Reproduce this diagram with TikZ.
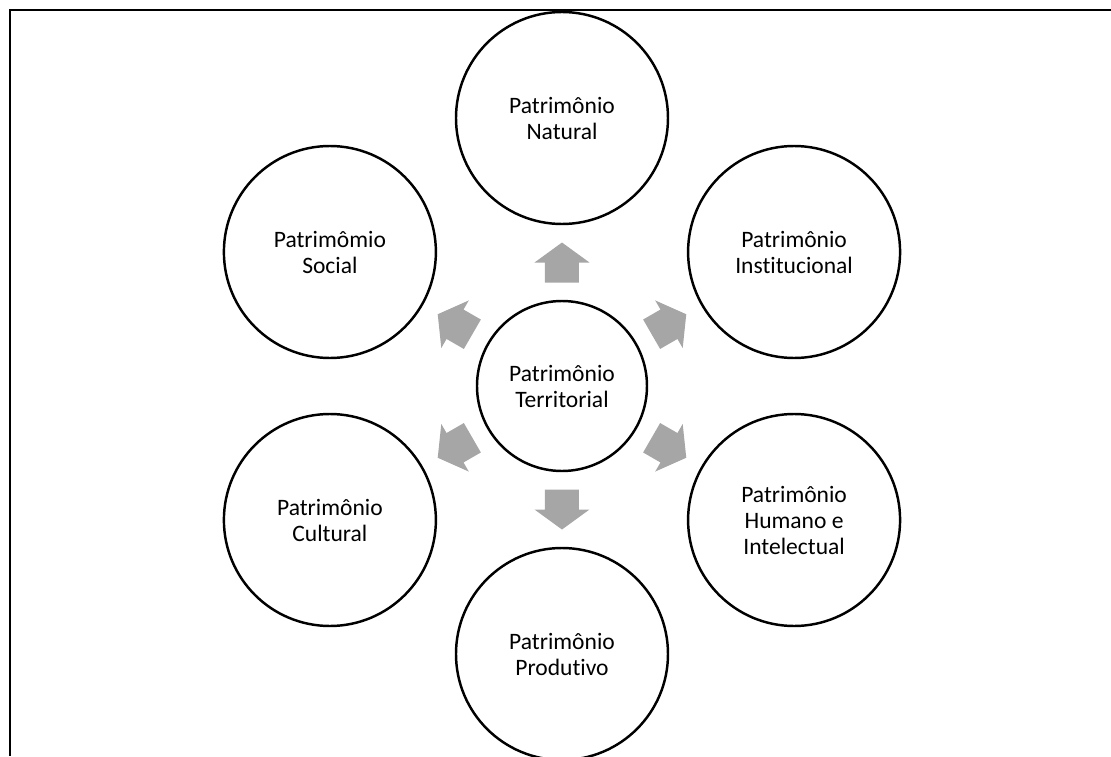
\documentclass[tikz,border=0pt]{standalone}
\usepackage{fontspec}
\setmainfont{Carlito}[Ligatures=NoCommon]
\usepackage{tikz}
\usetikzlibrary{calc}

\definecolor{arrowgray}{HTML}{A6A6A6}

\tikzset{
  patr/.style={circle, draw=black, line width=1.4pt, fill=white, align=center,
    font=\fontsize{13.4}{14.8}\selectfont, inner sep=0pt},
  outer/.style={patr, minimum size=4.24cm},
  inner/.style={patr, minimum size=3.4cm},
  blockarrow/.style={fill=arrowgray},
  frameline/.style={line width=1.3pt}
}

\begin{document}
\begin{tikzpicture}
  \useasboundingbox (-11.24,-7.40) rectangle (10.98,7.72);

  % Frame (top and left only)
  \draw[frameline] (10.98,7.52) -- (-11.04,7.52) -- (-11.04,-7.40);

  % Centre
  \node[inner] (ctr) at (0,0) {Patrimônio\\Territorial};

  % Ring of patrimonies
  \node[outer] (nat) at (90:5.36)  {Patrimônio\\Natural};
  \node[outer] (ins) at (30:5.36)  {Patrimônio\\Institucional};
  \node[outer] (hum) at (-30:5.36) {Patrimônio\\Humano e\\Intelectual};
  \node[outer] (pro) at (-90:5.36) {Patrimônio\\Produtivo};
  \node[outer] (cul) at (210:5.36) {Patrimônio\\Cultural};
  \node[outer] (soc) at (150:5.36) {Patrimômio\\Social};

  % Block arrows, halfway across each gap
  \foreach \a/\b/\n in {90/270/nat, 30/210/ins, -30/150/hum, -90/90/pro, 210/30/cul, 150/-30/soc} {
    \coordinate (m) at ($(ctr.\a)!0.5!(\n.\b)$);
    \fill[blockarrow, shift={(m)}, rotate=\a]
      (-0.4,-0.34) -- (0,-0.34) -- (0,-0.55) -- (0.4,0) -- (0,0.55) -- (0,0.34) -- (-0.4,0.34) -- cycle;
  }
\end{tikzpicture}
\end{document}
